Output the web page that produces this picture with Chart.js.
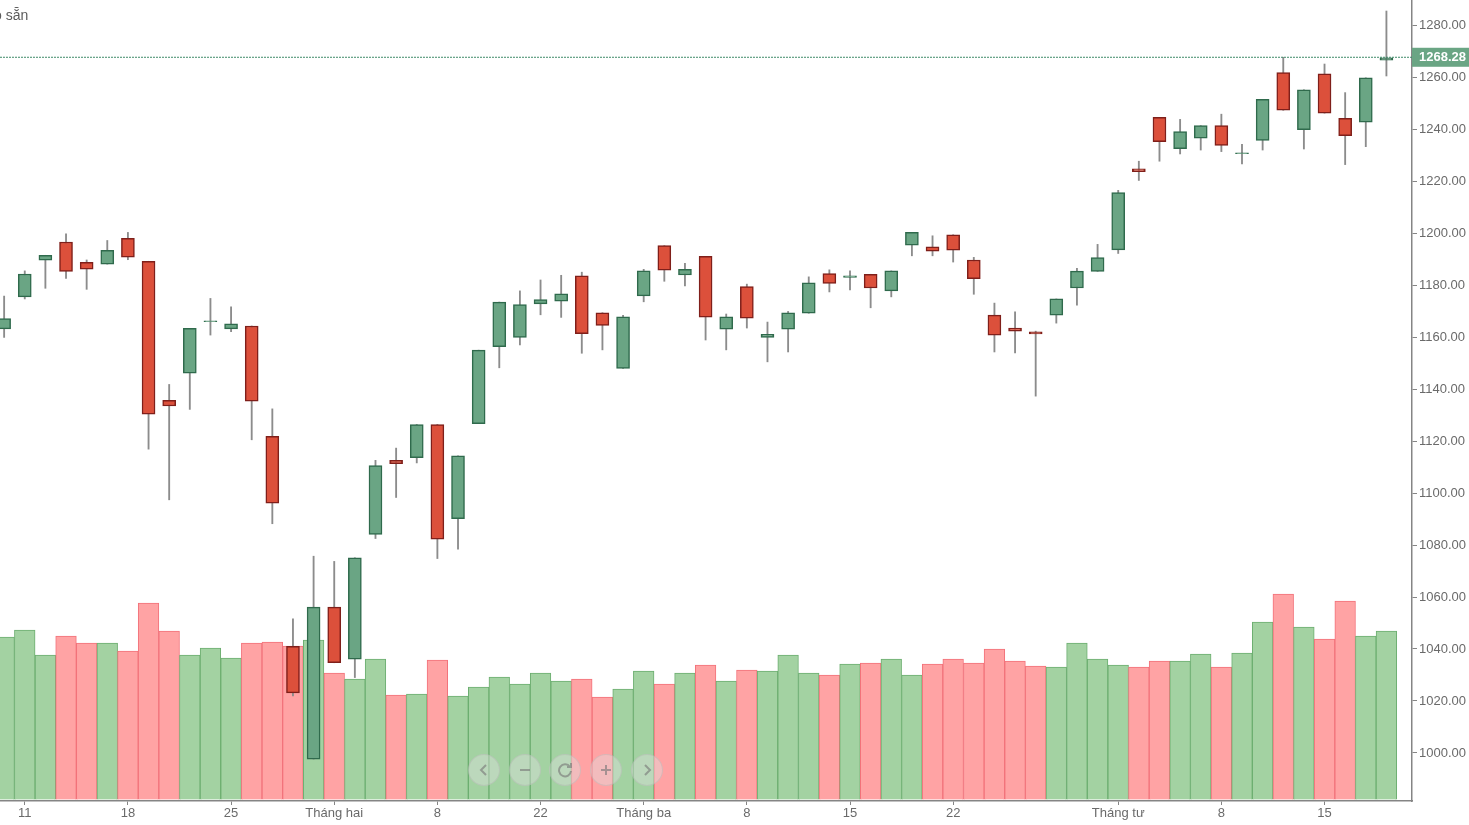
<!DOCTYPE html>
<html>
<head>
<meta charset="utf-8">
<title>Chart</title>
<script src="https://cdn.jsdelivr.net/npm/chart.js@4"></script>
<style>
  html, body { margin: 0; padding: 0; background: #fff; overflow: hidden; }
  #wrap { position: relative; width: 1469px; height: 825px; }
  canvas { display: block; }
  .nav {
    position: absolute; top: 754px; width: 32px; height: 32px; border-radius: 50%;
    background: rgba(225, 225, 225, 0.42); border: 1px solid rgba(170, 170, 170, 0.35);
    box-sizing: border-box; display: flex; align-items: center; justify-content: center;
  }
  .nav svg { width: 16px; height: 16px; fill: none; stroke: rgba(120, 120, 120, 0.62); stroke-width: 2; }
  #note {
    position: absolute; left: -13px; top: 7px; font: 14px "Liberation Sans", Arial, sans-serif;
    color: #5c5c5c; white-space: nowrap;
  }
</style>
</head>
<body>
<div id="wrap">
  <canvas id="chart" width="1469" height="825"></canvas>
  <div id="note">có sẵn</div>
  <div class="nav" style="left:468px"><svg viewBox="0 0 16 16"><path d="M10 3 L5 8 L10 13"/></svg></div>
  <div class="nav" style="left:509px"><svg viewBox="0 0 16 16"><path d="M3 8 H13"/></svg></div>
  <div class="nav" style="left:549px"><svg viewBox="0 0 16 16"><path d="M13 5 A6 6 0 1 0 14 9 M10 5 H14 V1"/></svg></div>
  <div class="nav" style="left:590px"><svg viewBox="0 0 16 16"><path d="M3 8 H13 M8 3 V13"/></svg></div>
  <div class="nav" style="left:631px"><svg viewBox="0 0 16 16"><path d="M6 3 L11 8 L6 13"/></svg></div>
</div>
<script>
const opens = [1163.2,1175.5,1189.6,1196.6,1188.8,1188.1,1198.0,1189.2,1135.7,1146.1,1166.0,1163.2,1164.3,1121.8,1041.0,997.6,1056.1,1036.1,1084.1,1112.6,1113.6,1126.4,1090.1,1126.7,1156.3,1159.9,1172.8,1173.8,1183.6,1169.4,1148.0,1175.9,1195.2,1183.9,1191.1,1163.1,1179.5,1159.9,1163.1,1169.2,1184.5,1183.0,1184.2,1177.8,1195.4,1194.8,1199.4,1189.7,1168.5,1163.5,1162.0,1168.5,1178.9,1185.3,1193.6,1224.8,1244.6,1232.5,1236.6,1241.4,1230.6,1235.7,1261.8,1239.8,1261.3,1244.2,1242.7,1266.6];
const highs = [1175.8,1185.5,1191.5,1199.8,1189.7,1197.2,1200.3,1189.2,1141.8,1163.4,1174.9,1171.7,1164.3,1132.4,1051.6,1075.7,1073.7,1075.1,1112.6,1117.3,1126.4,1126.4,1114.3,1155.0,1173.5,1177.8,1182.0,1183.8,1185.0,1169.4,1168.4,1186.1,1195.2,1188.4,1191.1,1168.9,1180.4,1165.8,1169.9,1183.2,1185.9,1185.5,1184.2,1185.5,1200.3,1199.0,1199.4,1190.7,1173.1,1169.7,1162.3,1174.7,1186.5,1195.7,1216.5,1227.7,1244.6,1243.8,1241.4,1245.8,1234.2,1251.5,1267.7,1255.2,1265.1,1254.1,1259.8,1285.5];
const lows = [1159.9,1174.7,1178.8,1182.6,1178.4,1188.1,1189.8,1116.9,1097.4,1132.2,1160.8,1162.1,1120.5,1088.2,1021.9,997.6,1034.7,1029.0,1082.5,1098.3,1111.6,1074.8,1078.4,1126.7,1148.2,1157.0,1168.6,1167.6,1153.8,1155.1,1148.0,1173.6,1181.5,1179.7,1158.9,1155.1,1163.5,1150.5,1154.3,1169.2,1177.4,1178.2,1171.3,1175.5,1191.3,1191.3,1188.9,1176.5,1154.3,1153.9,1137.3,1165.4,1172.3,1185.3,1192.2,1220.3,1227.7,1230.5,1232.0,1231.4,1226.7,1232.0,1247.3,1232.4,1246.2,1226.4,1233.3,1260.5];
const closes = [1167.1,1184.3,1191.5,1185.3,1186.2,1193.4,1190.8,1130.4,1133.5,1163.4,1166.3,1165.1,1135.4,1096.1,1023.1,1056.1,1034.7,1075.1,1110.6,1111.3,1126.4,1082.3,1114.3,1155.0,1173.5,1172.5,1174.5,1176.7,1161.3,1164.5,1167.8,1185.5,1185.8,1186.1,1167.7,1167.8,1167.3,1161.1,1169.4,1180.9,1180.7,1183.6,1178.9,1185.5,1200.3,1193.1,1193.5,1182.5,1160.8,1162.3,1161.2,1174.7,1185.4,1190.6,1215.6,1223.7,1235.2,1239.1,1241.4,1233.8,1230.9,1251.5,1247.3,1255.2,1246.2,1237.5,1259.8,1267.5];
const volumes = [164,171,146,165,158,158,150,198,170,146,153,143,158,159,155,161,128,122,142,106,107,141,105,114,124,117,128,120,122,104,112,130,117,128,136,120,131,130,146,128,126,137,138,142,126,137,142,138,152,140,135,134,158,142,136,134,140,140,147,134,148,179,207,174,162,200,165,170];
const tickPositions = [1,6,11,16,21,26,31,36,41,46,54,59,64];
const tickLabels = ['11','18','25','Tháng hai','8','22','Tháng ba','8','15','22','Tháng tư','8','15'];
const priceTicks = [1000,1020,1040,1060,1080,1100,1120,1140,1160,1180,1200,1220,1240,1260,1280];
const lastLevel = 1267.7;
const lastLabel = '1268.28';

const FONT = '"Liberation Sans", Arial, sans-serif';
const AXIS_COLOR = '#858585';
const TICK_COLOR = '#6a6a6a';
const GREEN = '#6aa584';
const GREEN_EDGE = '#2f6a4c';
const RED = '#dc503b';
const RED_EDGE = '#7f1f1a';
const isUp = (i) => closes[i] >= opens[i];

const lastPriceTag = {
  id: 'lastPriceTag',
  afterDraw(chart) {
    const { ctx, scales, chartArea } = chart;
    const y = scales.y.getPixelForValue(lastLevel);
    ctx.save();
    ctx.fillStyle = GREEN;
    ctx.fillRect(chartArea.right, y - 9.5, 1469 - chartArea.right, 19);
    ctx.fillStyle = '#fff';
    ctx.font = 'bold 13px ' + FONT;
    ctx.textBaseline = 'middle';
    ctx.fillText(lastLabel, chartArea.right + 7, y + 0.5);
    ctx.restore();
  }
};

new Chart(document.getElementById('chart').getContext('2d'), {
  data: {
    datasets: [
      {
        type: 'line',
        order: 1,
        data: [{ x: -0.2, y: lastLevel }, { x: 68.24, y: lastLevel }],
        borderColor: '#3f8a68',
        borderWidth: 1,
        borderDash: [2, 1],
        pointRadius: 0
      },
      {
        type: 'bar',
        order: 2,
        grouped: false,
        barThickness: 13,
        data: opens.map((o, i) => ({ x: i, y: [o, closes[i]] })),
        backgroundColor: opens.map((o, i) => (isUp(i) ? GREEN : RED)),
        borderColor: opens.map((o, i) => (isUp(i) ? GREEN_EDGE : RED_EDGE)),
        borderWidth: 1.5,
        borderSkipped: false
      },
      {
        type: 'bar',
        order: 3,
        grouped: false,
        barThickness: 1.2,
        data: highs.map((h, i) => ({ x: i, y: [lows[i], h] })),
        backgroundColor: '#8c8c8c'
      },
      {
        type: 'bar',
        order: 4,
        grouped: false,
        barThickness: 20.63,
        yAxisID: 'vol',
        base: 1.5,
        data: volumes.map((v, i) => ({ x: i, y: v })),
        backgroundColor: volumes.map((v, i) => (isUp(i) ? '#a3d2a2' : '#ffa3a4')),
        borderColor: volumes.map((v, i) => (isUp(i) ? '#6cae70' : '#f2727a')),
        borderWidth: 1,
        borderSkipped: 'bottom'
      }
    ]
  },
  plugins: [lastPriceTag],
  options: {
    responsive: false,
    animation: false,
    devicePixelRatio: 1,
    events: [],
    layout: { padding: 0 },
    plugins: { legend: { display: false }, tooltip: { enabled: false } },
    scales: {
      x: {
        type: 'linear',
        offset: false,
        min: -0.2,
        max: 68.24,
        afterBuildTicks: (s) => { s.ticks = tickPositions.map((value) => ({ value })); },
        afterFit: (s) => { s.height = 24; s.paddingLeft = 0; s.paddingRight = 0; },
        grid: { offset: false, drawOnChartArea: false, tickLength: 4, tickColor: AXIS_COLOR },
        border: { color: AXIS_COLOR, width: 1.5 },
        ticks: {
          autoSkip: false,
          maxRotation: 0,
          padding: 1,
          color: TICK_COLOR,
          font: { family: FONT, size: 13 },
          callback: (v) => tickLabels[tickPositions.indexOf(v)]
        }
      },
      y: {
        position: 'right',
        min: 981.5,
        max: 1289.74,
        afterBuildTicks: (s) => { s.ticks = priceTicks.map((value) => ({ value })); },
        afterFit: (s) => { s.width = 57; s.paddingTop = 0; s.paddingBottom = 0; },
        grid: { drawOnChartArea: false, tickLength: 5, tickColor: AXIS_COLOR },
        border: { color: AXIS_COLOR, width: 1.5 },
        ticks: {
          padding: 2,
          color: TICK_COLOR,
          font: { family: FONT, size: 13 },
          callback: (v) => v.toFixed(2)
        }
      },
      vol: { display: false, min: 0, max: 801 }
    }
  }
});
</script>
</body>
</html>
